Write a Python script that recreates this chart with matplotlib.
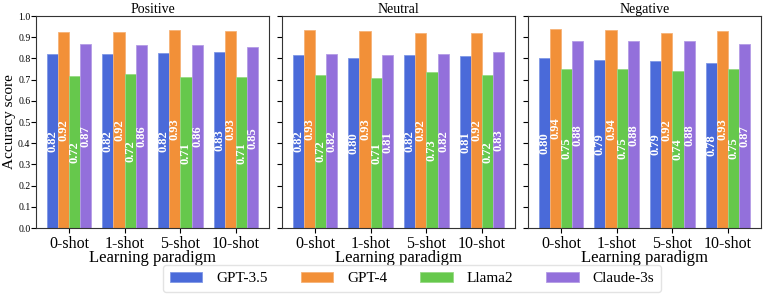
import matplotlib
matplotlib.use("Agg")
import matplotlib.pyplot as plt
import numpy as np

plt.rcParams['font.family'] = ['Liberation Serif', 'DejaVu Serif']

paradigms = ["0-shot", "1-shot", "5-shot", "10-shot"]
models = ["GPT-3.5", "GPT-4", "Llama2", "Claude-3s"]
panels = ["Positive", "Neutral", "Negative"]

positive = {
    "GPT-3.5": [0.82, 0.82, 0.824, 0.83],
    "GPT-4": [0.924, 0.924, 0.934, 0.931],
    "Llama2": [0.716, 0.725, 0.71, 0.71],
    "Claude-3s": [0.87, 0.864, 0.864, 0.852],
}
neutral = {
    "GPT-3.5": [0.818, 0.80, 0.818, 0.811],
    "GPT-4": [0.934, 0.931, 0.92, 0.92],
    "Llama2": [0.723, 0.706, 0.735, 0.72],
    "Claude-3s": [0.821, 0.814, 0.821, 0.829],
}
negative = {
    "GPT-3.5": [0.80, 0.792, 0.788, 0.78],
    "GPT-4": [0.94, 0.936, 0.922, 0.93],
    "Llama2": [0.752, 0.752, 0.74, 0.749],
    "Claude-3s": [0.88, 0.88, 0.88, 0.87],
}
data = [positive, neutral, negative]

colors = ["#4a6ad9", "#f29038", "#66c84c", "#9370db"]
edgecols = ["#7f98e6", "#f6b277", "#97da84", "#b49ce6"]

fig = plt.figure(figsize=(7.63, 2.98), dpi=100)
left0 = 36 / 763
w = 233 / 763
gap = 13 / 763
bottom = 70 / 298
h = 212 / 298

x = np.arange(len(paradigms))
bw = 0.2
axes = []
for i, (title, d) in enumerate(zip(panels, data)):
    ax = fig.add_axes([left0 + i * (w + gap), bottom, w, h])
    axes.append(ax)
    for j, m in enumerate(models):
        vals = d[m]
        pos = x + (j - 1.5) * bw
        bars = ax.bar(pos, vals, bw, color=colors[j], edgecolor=edgecols[j],
                      linewidth=0.6, label=m)
        for b, v in zip(bars, vals):
            ax.text(b.get_x() + b.get_width() / 2, v / 2, f"{v:.2f}",
                    rotation=90, ha="center", va="center", color="white",
                    fontsize=9, fontweight="bold")
    ax.set_ylim(0, 1.0)
    ax.set_yticks(np.arange(0, 1.01, 0.1))
    ax.set_xticks(x)
    ax.set_xticklabels(paradigms, fontsize=11.5)
    ax.set_xlabel("Learning paradigm", fontsize=12, labelpad=-1)
    ax.set_title(title, fontsize=10, pad=2)
    ax.tick_params(axis="y", labelsize=7, pad=0.5)
    ax.tick_params(axis="x", pad=2)
    for s in ax.spines.values():
        s.set_color("#333333")
        s.set_linewidth(0.8)
    if i == 0:
        ax.set_ylabel("Accuracy score", fontsize=11)
        ax.yaxis.set_label_coords(-0.084, 0.5)
    else:
        ax.set_yticklabels([])

handles, labels = axes[0].get_legend_handles_labels()
fig.legend(handles, labels, loc="lower center", ncol=4, fontsize=11,
           bbox_to_anchor=(0.54, -0.005), handlelength=2.15, handleheight=0.65,
           handletextpad=0.9, columnspacing=2.15, borderpad=0.45,
           frameon=True, fancybox=True, edgecolor="#dddddd")

fig.savefig("out.png", dpi=100)
